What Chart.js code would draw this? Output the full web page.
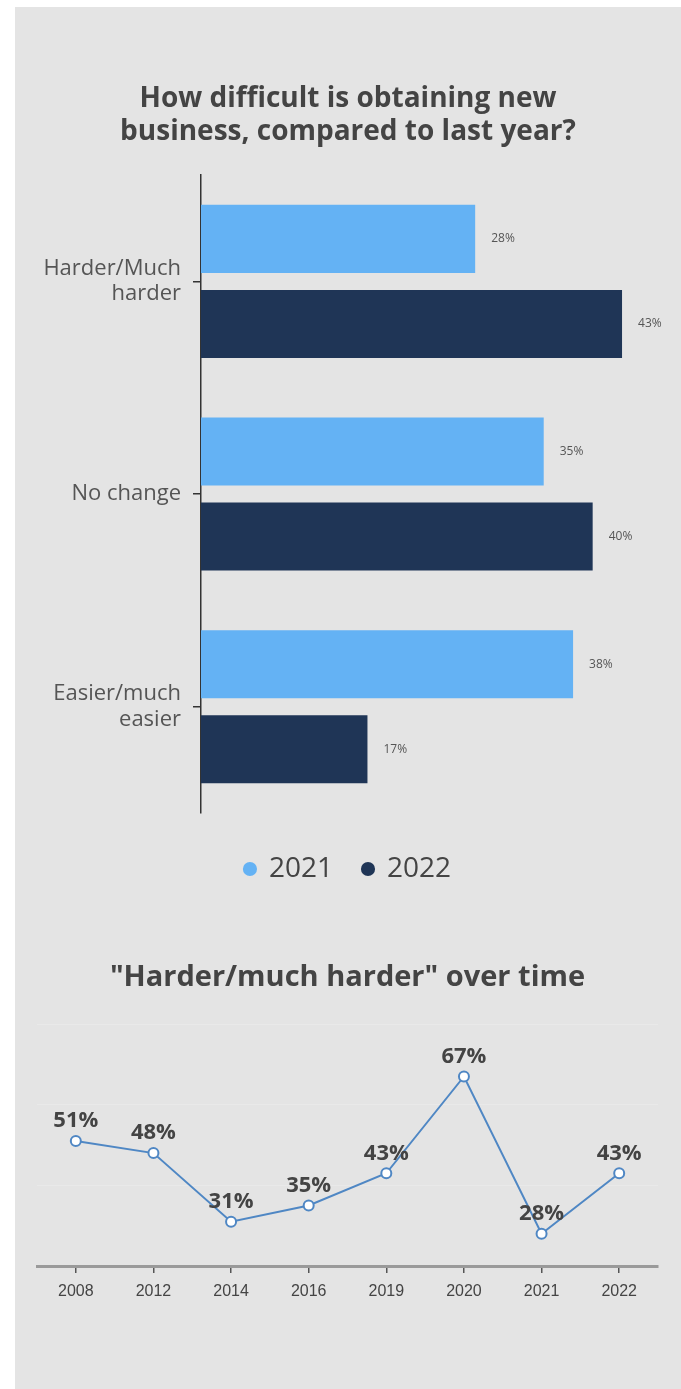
<!DOCTYPE html>
<html>
<head>
<meta charset="utf-8">
<script src="https://cdn.jsdelivr.net/npm/chart.js@4"></script>
<style>
  html, body { margin: 0; padding: 0; background: #ffffff; }
  #panel { position: absolute; left: 15px; top: 7px; width: 666px; height: 1382px; background: #e4e4e4; }
  #barWrap { position: absolute; left: 0; top: 0; }
  #lineWrap { position: absolute; left: 0; top: 928px; }
</style>
</head>
<body>
<div id="panel">
  <div id="barWrap"><canvas id="barChart" width="666" height="918"></canvas></div>
  <div id="lineWrap"><canvas id="lineChart" width="666" height="454"></canvas></div>
</div>
<script>
// Survey answers, share of respondents (%)
const answerCategories = [['Harder/Much', 'harder'], 'No change', ['Easier/much', 'easier']];
const seriesNames = ['2021', '2022'];
const values2021 = [28, 35, 38];
const values2022 = [43, 40, 17];

// "Harder/much harder" share by survey year (%)
const surveyYears = ['2008', '2012', '2014', '2016', '2019', '2020', '2021', '2022'];
const harderShare = [51, 48, 31, 35, 43, 67, 28, 43];

const LIGHT_BLUE = '#64b2f4';
const NAVY = '#1f3556';
const LINE_BLUE = '#4f87c4';
const TEXT = '#444444';

// Prints "NN%" just past the end of every bar
const barValueLabels = {
  id: 'barValueLabels',
  afterDatasetsDraw(chart) {
    const ctx = chart.ctx;
    ctx.save();
    ctx.font = '12px "Open Sans"';
    ctx.fillStyle = '#555555';
    ctx.textAlign = 'left';
    ctx.textBaseline = 'middle';
    chart.data.datasets.forEach((ds, di) => {
      chart.getDatasetMeta(di).data.forEach((bar, i) => {
        ctx.fillText(ds.data[i] + '%', bar.x + 16, bar.y);
      });
    });
    ctx.restore();
  }
};

// Prints the value above each point of the line
const pointValueLabels = {
  id: 'pointValueLabels',
  afterDatasetsDraw(chart) {
    const ctx = chart.ctx;
    ctx.save();
    ctx.font = 'bold 22px "Open Sans"';
    ctx.fillStyle = TEXT;
    ctx.textAlign = 'center';
    ctx.textBaseline = 'middle';
    const ds = chart.data.datasets[0];
    chart.getDatasetMeta(0).data.forEach((pt, i) => {
      ctx.fillText(ds.data[i] + '%', pt.x, pt.y - 20);
    });
    ctx.restore();
  }
};

new Chart(document.getElementById('barChart'), {
  type: 'bar',
  data: {
    labels: answerCategories,
    datasets: [
      { label: seriesNames[0], data: values2021, backgroundColor: LIGHT_BLUE },
      { label: seriesNames[1], data: values2022, backgroundColor: NAVY }
    ]
  },
  options: {
    indexAxis: 'y',
    responsive: false,
    animation: false,
    layout: { padding: { left: 10, right: 10, top: 0, bottom: 32 } },
    datasets: { bar: { categoryPercentage: 0.8, barPercentage: 0.8 } },
    scales: {
      x: {
        min: 0, max: 48,
        grid: { display: false },
        border: { display: false },
        ticks: { display: false },
        afterFit(scale) { scale.height = 12; }
      },
      y: {
        grid: { offset: false, drawOnChartArea: false, color: '#333333', tickLength: 8, lineWidth: 1.5 },
        border: { color: '#333333', width: 1.5 },
        ticks: { color: '#555555', padding: 12, font: { family: '"Open Sans"', size: 22, lineHeight: 1.15 } },
        afterFit(scale) { scale.width = 176; }
      }
    },
    plugins: {
      title: {
        display: true,
        text: ['How difficult is obtaining new', 'business, compared to last year?'],
        color: TEXT,
        font: { family: '"Open Sans"', size: 28, weight: 'bold', lineHeight: 1.18 },
        padding: { top: 75.5, bottom: 26.5 }
      },
      legend: {
        position: 'bottom',
        labels: {
          usePointStyle: true,
          pointStyle: 'circle',
          boxWidth: 10, boxHeight: 10,
          padding: 30,
          color: TEXT,
          font: { family: '"Open Sans"', size: 28 }
        }
      },
      tooltip: { enabled: false }
    }
  },
  plugins: [barValueLabels]
});

new Chart(document.getElementById('lineChart'), {
  type: 'line',
  data: {
    labels: surveyYears,
    datasets: [{
      label: 'Harder/much harder',
      data: harderShare,
      borderColor: LINE_BLUE,
      borderWidth: 2,
      pointRadius: 5,
      pointBorderWidth: 2,
      pointBackgroundColor: '#ffffff',
      pointBorderColor: LINE_BLUE,
      tension: 0
    }]
  },
  options: {
    responsive: false,
    animation: false,
    layout: { padding: { left: 22, right: 23, top: 0, bottom: 83 } },
    scales: {
      x: {
        offset: true,
        grid: { offset: false, drawOnChartArea: false, color: '#555555', tickLength: 7, lineWidth: 1.5 },
        border: { color: '#9a9a9a', width: 3 },
        ticks: { color: TEXT, padding: 9, font: { family: '"Liberation Sans"', size: 16 } },
        afterFit(scale) { scale.height = 40; }
      },
      y: {
        min: 20, max: 80,
        ticks: { display: false, stepSize: 20 },
        grid: { color: 'rgba(255,255,255,0.2)', drawTicks: false },
        border: { display: false },
        afterFit(scale) { scale.width = 0; }
      }
    },
    plugins: {
      title: {
        display: true,
        text: '"Harder/much harder" over time',
        color: TEXT,
        font: { family: '"Open Sans"', size: 29, weight: 'bold', lineHeight: 1.14 },
        padding: { top: 26.5, bottom: 29.5 }
      },
      legend: { display: false },
      tooltip: { enabled: false }
    }
  },
  plugins: [pointValueLabels]
});
</script>
</body>
</html>
